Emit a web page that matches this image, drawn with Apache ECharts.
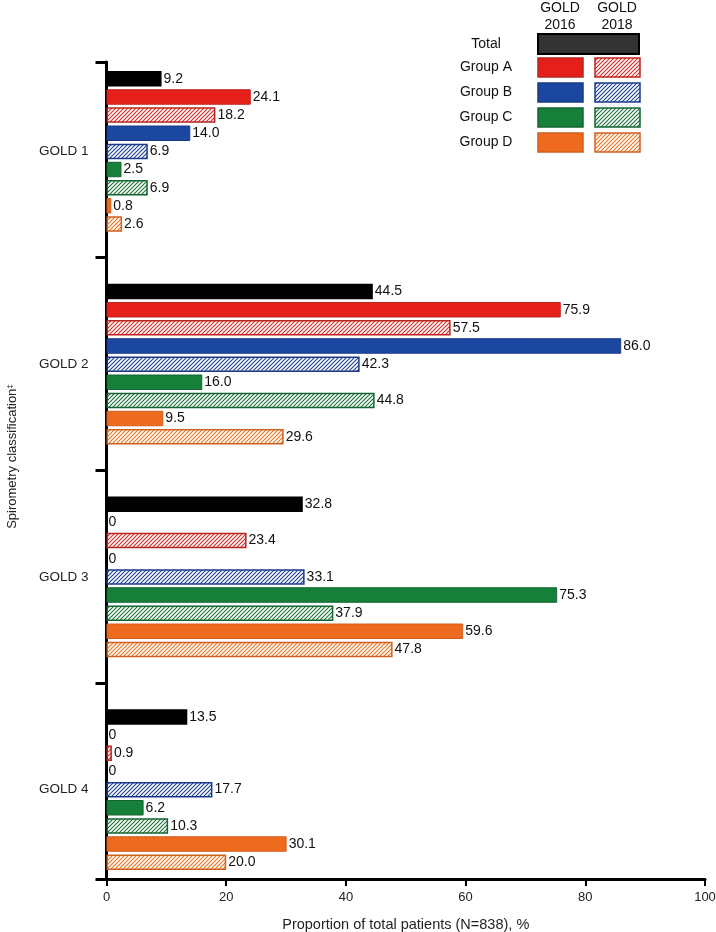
<!DOCTYPE html>
<html>
<head>
<meta charset="utf-8">
<script src="https://cdn.jsdelivr.net/npm/echarts@6/dist/echarts.min.js"></script>
<style>html,body{margin:0;padding:0;background:#fff;}#chart{width:716px;height:932px;}</style>
</head>
<body>
<div id="chart"></div>
<script>
// ---- data ----
const categories = ['GOLD 1', 'GOLD 2', 'GOLD 3', 'GOLD 4'];
const total      = [9.2, 44.5, 32.8, 13.5];
const groupA2016 = [24.1, 75.9, 0, 0];
const groupA2018 = [18.2, 57.5, 23.4, 0.9];
const groupB2016 = [14.0, 86.0, 0, 0];
const groupB2018 = [6.9, 42.3, 33.1, 17.7];
const groupC2016 = [2.5, 16.0, 75.3, 6.2];
const groupC2018 = [6.9, 44.8, 37.9, 10.3];
const groupD2016 = [0.8, 9.5, 59.6, 30.1];
const groupD2018 = [2.6, 29.6, 47.8, 20.0];
const xTicks = [0, 20, 40, 60, 80, 100];
const groupNames = ['Group A', 'Group B', 'Group C', 'Group D'];
const editions = ['GOLD\n2016', 'GOLD\n2018'];

// ---- styles ----
const FONT = "'Liberation Sans', Arial, Helvetica, sans-serif";
const fills   = {A: '#e5201b', B: '#1c47a0', C: '#16803a', D: '#ee6a1e'};
const borders = {A: '#b8241f', B: '#1a3a88', C: '#126630', D: '#d0601e'};
const hatchLine = {A: '#dc2a26', B: '#1c3e94', C: '#1a7036', D: '#ec721e'};

function hatch(color) {
  const s = 4;
  const c = document.createElement('canvas');
  c.width = s; c.height = s;
  const g = c.getContext('2d');
  g.fillStyle = '#fff';
  g.fillRect(0, 0, s, s);
  g.strokeStyle = color;
  g.lineWidth = 1.1;
  g.beginPath();
  g.moveTo(0, s); g.lineTo(s, 0);
  g.moveTo(-1, 1); g.lineTo(1, -1);
  g.moveTo(s - 1, s + 1); g.lineTo(s + 1, s - 1);
  g.stroke();
  return {image: c, repeat: 'repeat'};
}

const label = {
  show: true, position: 'right', distance: 2,
  fontFamily: FONT, fontSize: 14, color: '#111',
  formatter: p => (p.value === 0 ? '0' : p.value.toFixed(1))
};

function solid(key) {
  return {color: fills[key], borderColor: borders[key], borderWidth: 1};
}
function hatched(key) {
  return {color: hatch(hatchLine[key]), borderColor: borders[key], borderWidth: 1.5};
}

const seriesSpec = [
  ['Total', total, {color: '#000'}],
  ['Group A GOLD 2016', groupA2016, solid('A')],
  ['Group A GOLD 2018', groupA2018, hatched('A')],
  ['Group B GOLD 2016', groupB2016, solid('B')],
  ['Group B GOLD 2018', groupB2018, hatched('B')],
  ['Group C GOLD 2016', groupC2016, solid('C')],
  ['Group C GOLD 2018', groupC2018, hatched('C')],
  ['Group D GOLD 2016', groupD2016, solid('D')],
  ['Group D GOLD 2018', groupD2018, hatched('D')]
];

const series = seriesSpec.map(([name, data, style]) => ({
  type: 'bar', name,
  data: data.map(v => (v === 0 ? {value: v, itemStyle: {borderWidth: 0, borderColor: 'transparent'}} : v)),
  xAxisIndex: 0, yAxisIndex: 0,
  barWidth: 15.5, barGap: '17%',
  itemStyle: style, label,
  emphasis: {disabled: true}
}));

// ---- legend table (graphic) ----
const graphic = [];
const colX = [560, 617];
const swW = 45, swH = 19;
editions.forEach((t, i) => {
  graphic.push({type: 'text', x: colX[i], y: 0,
    style: {text: t, font: '14px ' + FONT, fill: '#111', align: 'center', verticalAlign: 'top', lineHeight: 17}});
});
graphic.push({type: 'text', x: 486, y: 44,
  style: {text: 'Total', font: '14px ' + FONT, fill: '#111', align: 'center', verticalAlign: 'middle'}});
graphic.push({type: 'rect', shape: {x: 538, y: 34, width: 101, height: 20},
  style: {fill: '#333', stroke: '#000', lineWidth: 2}});
groupNames.forEach((g, i) => {
  const key = 'ABCD'[i];
  const y = 58 + i * 25;
  graphic.push({type: 'text', x: 486, y: y + swH / 2,
    style: {text: g, font: '14px ' + FONT, fill: '#111', align: 'center', verticalAlign: 'middle'}});
  graphic.push({type: 'rect', shape: {x: 538, y, width: swW, height: swH},
    style: {fill: fills[key], stroke: borders[key], lineWidth: 1.5}});
  graphic.push({type: 'rect', shape: {x: 595, y, width: swW, height: swH},
    style: {fill: hatch(hatchLine[key]), stroke: borders[key], lineWidth: 1.5}});
});

const option = {
  animation: false,
  backgroundColor: '#fff',
  textStyle: {fontFamily: FONT},
  grid: [
    {left: 106.5, right: 11, top: 45, bottom: 36, outerBoundsMode: 'none', containLabel: false},
    {left: 106.5, right: 11, top: 62, bottom: 53, outerBoundsMode: 'none', containLabel: false}
  ],
  xAxis: [
    {gridIndex: 0, type: 'value', min: 0, max: 100, show: false},
    {gridIndex: 1, type: 'value', min: xTicks[0], max: xTicks[xTicks.length - 1], interval: xTicks[1] - xTicks[0],
      axisLine: {show: true, onZero: false, lineStyle: {color: '#000', width: 3}},
      axisTick: {show: true, length: 7, lineStyle: {color: '#000', width: 2}},
      axisLabel: {fontFamily: FONT, fontSize: 13, color: '#222', margin: 12},
      splitLine: {show: false},
      name: 'Proportion of total patients (N=838), %',
      nameLocation: 'middle', nameGap: 38,
      nameTextStyle: {fontFamily: FONT, fontSize: 14.5, color: '#222'}}
  ],
  yAxis: [
    {gridIndex: 0, type: 'category', inverse: true, data: categories,
      axisLine: {show: false}, axisTick: {show: false},
      axisLabel: {fontFamily: FONT, fontSize: 13.5, color: '#222', margin: 18}},
    {gridIndex: 1, type: 'value', inverse: true, min: 0.08, max: 3.92,
      axisLine: {show: true, onZero: false, lineStyle: {color: '#000', width: 3}},
      axisTick: {show: true, length: 11, customValues: [0.08, 1, 2, 3, 3.92], lineStyle: {color: '#000', width: 3}},
      axisLabel: {show: false},
      splitLine: {show: false},
      name: 'Spirometry classification{sup|‡}',
      nameLocation: 'middle', nameGap: 87, nameRotate: 90,
      nameTextStyle: {fontFamily: FONT, fontSize: 13, color: '#222', padding: [0, 0, 0, 28],
        rich: {sup: {fontFamily: FONT, fontSize: 8, color: '#222', verticalAlign: 'top', padding: [0, 0, 6, 0]}}}}
  ],
  graphic,
  series
};

const chart = echarts.init(document.getElementById('chart'), null, {renderer: 'canvas'});
chart.setOption(option);
</script>
</body>
</html>
